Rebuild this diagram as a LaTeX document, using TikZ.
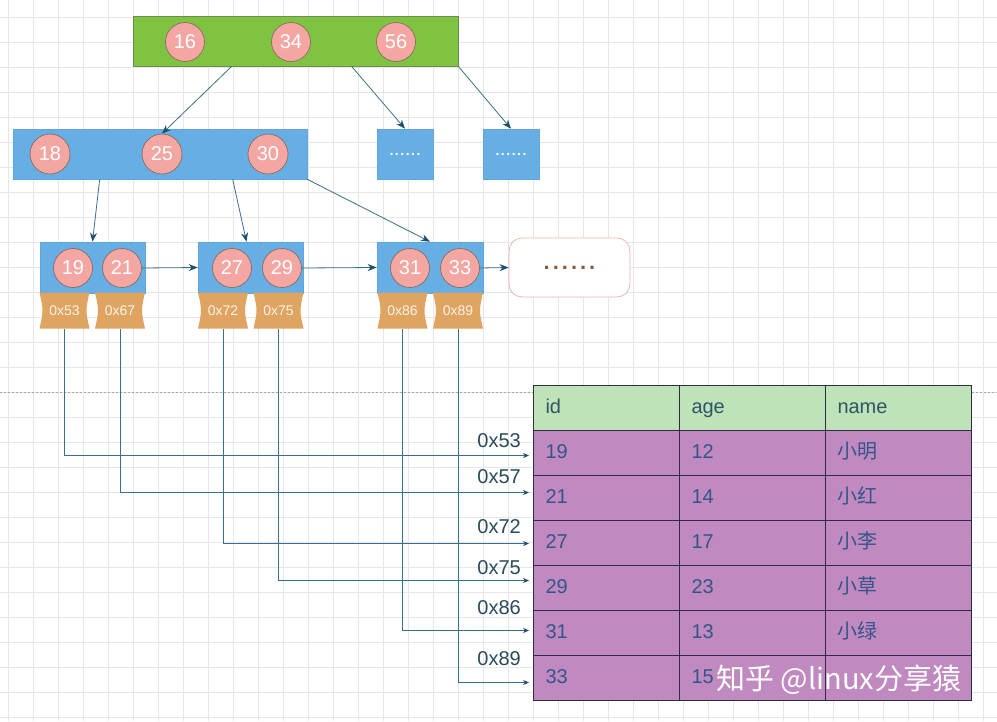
\documentclass[tikz,border=0pt]{standalone}
\usepackage{fontspec}
\setmainfont{Liberation Sans}
\newfontfamily\cjk{Noto Sans CJK SC}
\usetikzlibrary{arrows.meta,calc}
\definecolor{gridc}{HTML}{E6E6E6}
\definecolor{pagec}{HTML}{A8A8A8}
\definecolor{greenc}{HTML}{80C342}
\definecolor{greenb}{HTML}{6A8F4A}
\definecolor{bluec}{HTML}{66AEE3}
\definecolor{blueb}{HTML}{5EA6DC}
\definecolor{pinkc}{HTML}{F4A6A3}
\definecolor{pinkb}{HTML}{8C6B5D}
\definecolor{ptrfill}{HTML}{DFA462}
\definecolor{ptrtext}{HTML}{FFF4E6}
\definecolor{connc}{HTML}{3A6F89}
\definecolor{tipc}{HTML}{1F4F6B}
\definecolor{morec}{HTML}{E8B8B0}
\definecolor{dotc}{HTML}{8B5A3C}
\definecolor{headc}{HTML}{BEE3B9}
\definecolor{rowc}{HTML}{C089C0}
\definecolor{tline}{HTML}{2F2A45}
\definecolor{ttext}{HTML}{34558A}
\definecolor{htext}{HTML}{2F5565}
\definecolor{lblc}{HTML}{2A4A5A}
\newcommand\myfs[1]{\fontsize{#1}{#1}\selectfont}
\begin{document}
\begin{tikzpicture}[x=1pt,y=-1pt,
  gridl/.style={draw=gridc,line width=0.6pt},
  pagel/.style={draw=pagec,line width=0.7pt,dash pattern=on 2pt off 2pt},
  greenbox/.style={rectangle,draw=greenb,fill=greenc,line width=0.8pt,inner sep=0},
  bluebox/.style={rectangle,draw=blueb,fill=bluec,line width=0.6pt,inner sep=0},
  keyc/.style={circle,draw=pinkb,fill=pinkc,line width=0.7pt,minimum size=39pt,inner sep=0,text=white,font=\myfs{20}},
  ptr/.style={rectangle,minimum width=50pt,minimum height=36pt,inner sep=0,text=ptrtext,font=\myfs{14},
    path picture={\fill[ptrfill] (path picture bounding box.north west)
      .. controls ($(path picture bounding box.west)+(4,0)$) .. (path picture bounding box.south west)
      -- (path picture bounding box.south east)
      .. controls ($(path picture bounding box.east)+(-4,0)$) .. (path picture bounding box.north east) -- cycle;}},
  tarr/.style={draw=connc,line width=0.8pt,-{Stealth[length=9pt,width=7pt,color=tipc]}},
  parr/.style={draw=connc,line width=0.8pt,-{Stealth[length=6pt,width=5pt,color=tipc]},shorten >=4pt},
  lbl/.style={anchor=east,text=lblc,font=\myfs{20},inner sep=0},
  hcell/.style={rectangle,draw=tline,line width=1pt,fill=headc,anchor=north west,minimum width=146pt,minimum height=45pt,text width=122pt,text height=14pt,text depth=4pt,inner xsep=12pt,inner ysep=0,align=left,text=htext,font=\myfs{20}},
  cell/.style={hcell,fill=rowc,text=ttext}
]
\useasboundingbox (0,0) rectangle (997,721);
\fill[white] (0,0) rectangle (997,721);
% grid
\foreach \gx in {8,33,...,997} \draw[gridl] (\gx,0) -- (\gx,721);
\foreach \gy in {17,42,...,721} \draw[gridl] (0,\gy) -- (997,\gy);
\draw[pagel] (0,392) -- (997,392);

% root
\node[greenbox,minimum width=325pt,minimum height=50pt] (top) at (295.5,41) {};
\node[keyc] (c16) at (185,42) {16};
\node[keyc] (c34) at (291,42) {34};
\node[keyc] (c56) at (396,42) {56};

% second level
\node[bluebox,minimum width=294pt,minimum height=50pt] (mid) at (160,154) {};
\node[keyc,minimum size=40pt] (c18) at (50,154) {18};
\node[keyc,minimum size=40pt] (c25) at (162,154) {25};
\node[keyc,minimum size=40pt] (c30) at (268,154) {30};
\node[bluebox,minimum width=56pt,minimum height=50pt,text=white,font=\bfseries\myfs{14}] (d1) at (405,154) {.\hspace{1.5pt}.\hspace{1.5pt}.\hspace{1.5pt}.\hspace{1.5pt}.\hspace{1.5pt}.};
\node[bluebox,minimum width=56pt,minimum height=50pt,text=white,font=\bfseries\myfs{14}] (d2) at (511,154) {.\hspace{1.5pt}.\hspace{1.5pt}.\hspace{1.5pt}.\hspace{1.5pt}.\hspace{1.5pt}.};

% leaves
\node[bluebox,minimum width=105pt,minimum height=51pt] (l1) at (92.5,267.5) {};
\node[bluebox,minimum width=105pt,minimum height=51pt] (l2) at (250.5,267.5) {};
\node[bluebox,minimum width=106pt,minimum height=51pt] (l3) at (430,267.5) {};
\node[keyc] (c19) at (73,268) {19};
\node[keyc] (c21) at (122,268) {21};
\node[keyc] (c27) at (232,268) {27};
\node[keyc] (c29) at (282,268) {29};
\node[keyc] (c31) at (410,268) {31};
\node[keyc] (c33) at (460,268) {33};
\node[rectangle,draw=morec,fill=white,line width=0.8pt,rounded corners=13pt,minimum width=121pt,minimum height=59pt,text=dotc,font=\bfseries\myfs{22}] (more) at (569.5,267.5) {.\hspace{3pt}.\hspace{3pt}.\hspace{3pt}.\hspace{3pt}.\hspace{3pt}.};

% pointers
\node[ptr] (p53) at (64.5,310.5) {0x53};
\node[ptr] (p67) at (120,310.5) {0x67};
\node[ptr] (p72) at (223,310.5) {0x72};
\node[ptr] (p75) at (278.5,310.5) {0x75};
\node[ptr] (p86) at (402.5,310.5) {0x86};
\node[ptr] (p89) at (458,310.5) {0x89};

% tree connectors
\draw[tarr] ($(top.south west)+(99,0)$) -- (c25.north);
\draw[tarr] ($(top.south west)+(219,0)$) -- (d1.north);
\draw[tarr] (top.south east) -- (d2.north);
\draw[tarr] ($(mid.south west)+(87,0)$) -- (l1.north);
\draw[tarr] ($(mid.south west)+(220,0)$) -- ($(l2.north)+(-4,0)$);
\draw[tarr] (mid.south east) -- (l3.north);
\draw[tarr] (c21.east) -- (l2.west);
\draw[tarr] (c29.east) -- (l3.west);
\draw[tarr] (c33.east) -- (more.west);

% table
\foreach \t [count=\j from 0] in {id,age,name}
  \node[hcell] (h\j) at (533+146*\j,385) {\t};
\foreach \a/\b/\c [count=\i] in {19/12/小明,21/14/小红,27/17/小李,29/23/小草,31/13/小绿,33/15/{}} {
  \node[cell] (r\i c1) at (533,385+45*\i) {\a};
  \node[cell] (r\i c2) at (679,385+45*\i) {\b};
  \node[cell] (r\i c3) at (825,385+45*\i) {\cjk\c};
}

% pointer connectors
\draw[parr] (p53.south) |- ($(r1c1.west)+(0,2.5)$);
\draw[parr] (p67.south) |- ($(r2c1.west)+(0,-5.5)$);
\draw[parr] (p72.south) |- ($(r3c1.west)+(0,0.5)$);
\draw[parr] (p75.south) |- ($(r4c1.west)+(0,-7.5)$);
\draw[parr] (p86.south) |- ($(r5c1.west)+(0,-2.5)$);
\draw[parr] (p89.south) |- ($(r6c1.west)+(0,4.5)$);
\node[lbl] (a53) at (521,441) {0x53};
\node[lbl] (a57) at (521,477) {0x57};
\node[lbl] (a72) at (521,527) {0x72};
\node[lbl] (a75) at (521,568) {0x75};
\node[lbl] (a86) at (521,608) {0x86};
\node[lbl] (a89) at (521,659) {0x89};

% watermark
\node[anchor=west,text=white,font=\cjk\myfs{29},inner sep=0] (wm) at (716,680) {知乎 @linux分享猿};
\end{tikzpicture}
\end{document}
